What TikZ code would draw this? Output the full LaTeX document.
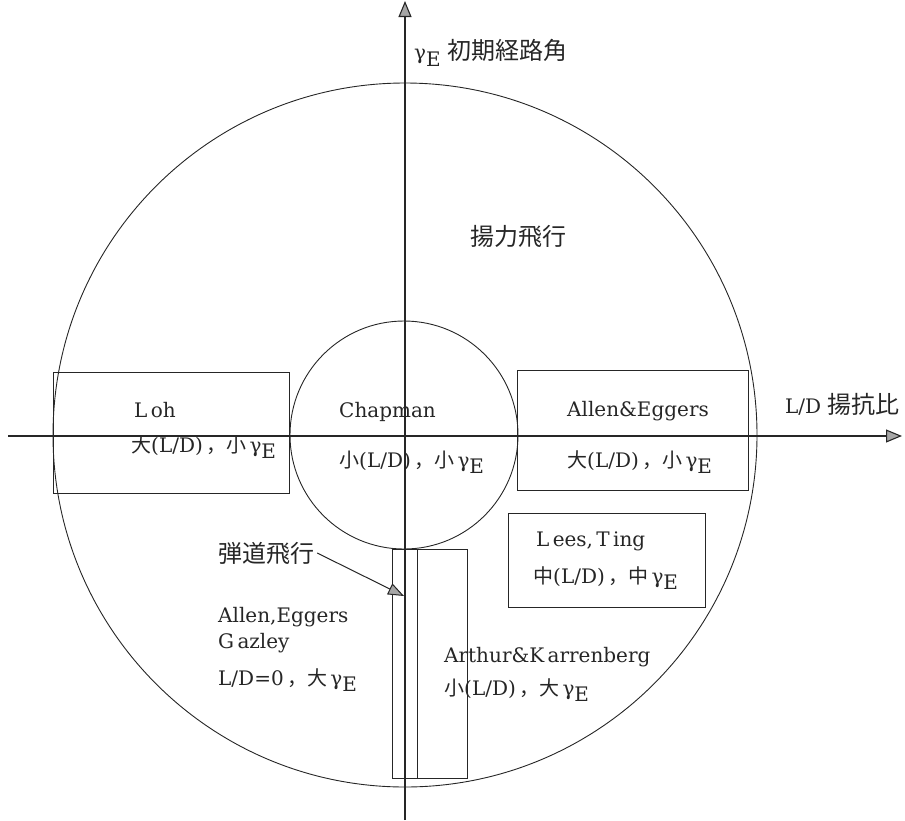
\documentclass[tikz,border=0pt]{standalone}
\usepackage{fontspec}
\setmainfont{DejaVu Serif}
\newfontfamily\jp{Noto Sans CJK JP}
\usetikzlibrary{arrows.meta}
\newcommand{\gE}{γ\raisebox{-0.32em}{E}}
\tikzset{
  lbl/.style={inner sep=0pt, font=\fontsize{20}{23}\selectfont, text=black!85},
  jplbl/.style={inner sep=0pt, font=\jp\fontsize{24}{27}\selectfont, text=black!85},
  line/.style={draw=black!85, line width=0.9pt},
  axis/.style={draw=black!85, line width=1.1pt, -{Triangle[length=16pt,width=13pt,fill=black!35]}},
  arr/.style={draw=black!85, line width=1pt, -{Triangle[length=16pt,width=12pt,fill=black!35]}},
}
\begin{document}
\begin{tikzpicture}[x=1pt,y=-1pt]
\useasboundingbox (0,0) rectangle (905,820);
% circles
\coordinate (o) at (405,435);
\draw[line] (o) circle[radius=352];
\draw[line] (404,435) circle[radius=114];
% boxes
\draw[line] (53,372) rectangle (289,493);
\draw[line] (517,370) rectangle (748,490);
\draw[line] (508,513) rectangle (705,607);
\draw[line] (392,549) rectangle (467,778);
\draw[line] (417,549) -- (417,778);
% axes
\coordinate (yb) at (405,820);
\coordinate (yt) at (405,1);
\coordinate (xl) at (8,436);
\coordinate (xr) at (902,436);
\draw[axis] (yb) -- (yt);
\draw[axis] (xl) -- (xr);
% axis labels
\node[lbl, anchor=west] (gamlab) at (414,53) {\gE\ {\jp\fontsize{24}{27}\selectfont 初期経路角}};
\node[lbl, anchor=west] (ldlab) at (785,404) {L/D {\jp\fontsize{24}{27}\selectfont 揚抗比}};
\node[jplbl] (lift) at (518,236) {揚力飛行};
% Loh
\node[lbl, anchor=west] (loh) at (134,410) {L\,oh};
\node[lbl, anchor=west] (loh2) at (131,447) {{\jp 大}(L/D)\,{\jp ，}{\jp 小}\,\gE};
% Chapman
\node[lbl, anchor=west] (chap) at (339,412) {Chapman};
\node[lbl, anchor=west] (chap2) at (339,462) {{\jp 小}(L/D)\,{\jp ，}{\jp 小}\,\gE};
% Allen & Eggers
\node[lbl, anchor=west] (ae) at (567,411) {Allen\&Eggers};
\node[lbl, anchor=west] (ae2) at (567,462) {{\jp 大}(L/D)\,{\jp ，}{\jp 小}\,\gE};
% Lees, Ting
\node[lbl, anchor=west] (lt) at (536,541) {L\,ees,\,T\,ing};
\node[lbl, anchor=west] (lt2) at (533,578) {{\jp 中}(L/D)\,{\jp ，}{\jp 中}\,\gE};
% ballistic
\node[jplbl] (ball) at (266,553) {弾道飛行};
\coordinate (btip) at (404,596);
\draw[arr] ([xshift=3pt]ball.east) -- (btip);
\node[lbl, anchor=west] (aeg) at (218,617) {Allen,Eggers};
\node[lbl, anchor=west] (gaz) at (218,643) {G\,azley};
\node[lbl, anchor=west] (ld0) at (218,680) {L/D=0\,{\jp ，}{\jp 大}\,\gE};
% Arthur & Karrenberg
\node[lbl, anchor=west] (ak) at (444,657) {Arthur\&K\,arrenberg};
\node[lbl, anchor=west] (ak2) at (444,690) {{\jp 小}(L/D)\,{\jp ，}{\jp 大}\,\gE};
\end{tikzpicture}
\end{document}
